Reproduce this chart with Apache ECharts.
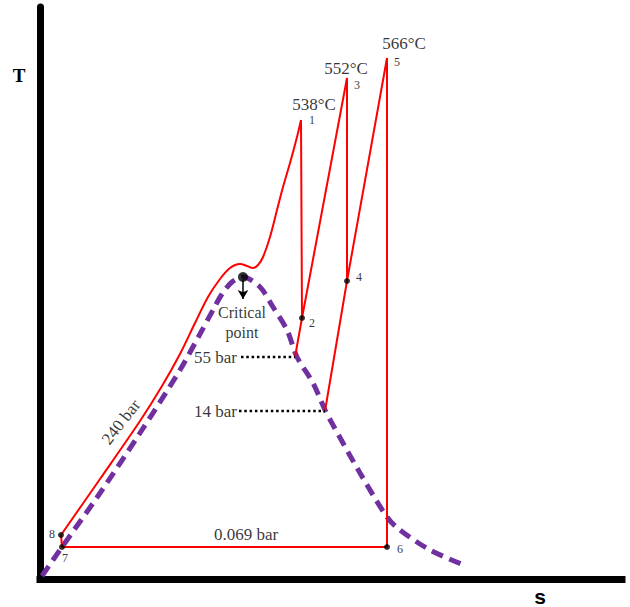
<!DOCTYPE html>
<html><head><meta charset="utf-8">
<script src="https://cdn.jsdelivr.net/npm/echarts@6/dist/echarts.min.js"></script>
<style>html,body{margin:0;padding:0;background:#fff}#c{width:630px;height:607px}</style>
</head><body><div id="c"></div>
<script>
// Schematic T-s diagram (arbitrary units: s horizontal, T vertical)
const saturationDome = [[2,3],[22,32],[58,83],[100,146],[140,209],[160,245],[173,269],[182,285],[192,297],[203,302],[220,292],[233,272],[247,249],[257,222],[273,196],[285,169],[293,154],[320,106],[347,62],[360,49],[390,29],[424,14]];
const isobar240 = [[21,44],[60,100],[100,158],[122,193],[140,225],[155,256],[168,282],[180,300],[190,311],[200,315],[207,313],[213,311],[218,314],[223,322],[230,342],[237,369],[243,392],[250,416],[257,442],[261,459]];
const statePointNames = ['1','2','3','4','5','6','7','8'];
const statePoints = [[261,459],[262,261],[307,501],[307,298],[347,521],[347,32],[22,32],[21,44]];
const markedStates = ['2','4','6','7','8'];
const temperatureLabels = ['538°C','552°C','566°C'];
const temperatureStates = ['1','3','5'];
const dome55 = [255,222];
const dome14 = [285,168];
const criticalPoint = [203,302];
const pressureNames = ['240 bar','55 bar','14 bar','0.069 bar'];
const dotted55 = [[201,222],[255,222]];
const dotted14 = [[199,168],[285,168]];
const label240Pos = [81,157];
const label0069Pos = [206,45];

const sp = n => statePoints[statePointNames.indexOf(n)];
const numberOffsets = {'1':[11,0],'2':[10,5],'3':[10,7],'4':[12,-4],'5':[10,4],'6':[13,2],'7':[3,11],'8':[-9,-1]};
const tempOffsets = [[13,-16],[-1,-10],[17,-15]];
const SERIF = "'Liberation Serif', 'Times New Roman', serif";
const RED = '#ff0000';

const chart = echarts.init(document.getElementById('c'), null, {renderer:'svg'});
const redLine = {color: RED, width: 2};
chart.setOption({
  animation: false,
  backgroundColor: '#fff',
  grid: {left: 40, top: 7, right: 8, bottom: 28},
  xAxis: {type:'value', min:0, max:582, axisLine:{show:true, onZero:false, lineStyle:{color:'#000', width:7, cap:'square'}}, axisTick:{show:false}, axisLabel:{show:false}, splitLine:{show:false}},
  yAxis: {type:'value', min:0, max:572, axisLine:{show:true, onZero:false, lineStyle:{color:'#000', width:7}}, axisTick:{show:false}, axisLabel:{show:false}, splitLine:{show:false}},
  graphic: [
    {type:'text', x:19, y:75, style:{text:'T', font:"bold 19px " + SERIF, fill:'#000', align:'center', verticalAlign:'middle', textAlign:'center', textVerticalAlign:'middle'}},
    {type:'text', x:540, y:596, style:{text:'s', font:"bold 21px 'Liberation Sans', Arial, sans-serif", fill:'#000', align:'center', verticalAlign:'middle', textAlign:'center', textVerticalAlign:'middle'}}
  ],
  series: [
    {type:'line', name:'dome', data: saturationDome, smooth:0.3, symbol:'none', z:1, lineStyle:{color:'#7030a0', width:5, type:[12,7]}},
    {type:'line', name:'240 bar', data: isobar240, smooth:0.3, symbol:'none', z:3, lineStyle: redLine},
    {type:'line', name:'cycle', data: statePoints, symbol:'none', z:3, lineStyle: redLine},
    {type:'line', name:'55 bar ext', data: [dome55, sp('2')], symbol:'none', z:3, lineStyle: redLine},
    {type:'line', name:'14 bar ext', data: [dome14, sp('4')], symbol:'none', z:3, lineStyle: redLine},
    {type:'line', name:'55 bar dots', data: dotted55, symbol:'none', z:3, lineStyle:{color:'#000', width:2.5, type:[2.5,2.8]}},
    {type:'line', name:'14 bar dots', data: dotted14, symbol:'none', z:3, lineStyle:{color:'#000', width:2.5, type:[2.5,2.8]}},
    {type:'scatter', name:'states', z:5, symbolSize:6, itemStyle:{color:'#000'},
      data: statePointNames.map(n => ({value: sp(n), name:n, symbolSize: markedStates.includes(n) ? 6 : 0,
        label:{show:true, position:'inside', offset:numberOffsets[n], formatter:n, color:'#000', fontFamily:SERIF, fontSize:12}}))},
    {type:'scatter', name:'temps', z:5, symbolSize:0, itemStyle:{color:'transparent'},
      data: temperatureStates.map((n,i) => ({value: sp(n), name:temperatureLabels[i],
        label:{show:true, position:'inside', offset:tempOffsets[i], formatter:temperatureLabels[i], color:'#000', fontFamily:SERIF, fontSize:17}}))},
    {type:'scatter', name:'critical', z:6, symbolSize:10, itemStyle:{color:'#000'},
      data:[{value: criticalPoint, label:{show:true, position:'inside', offset:[-1,45], formatter:'Critical\npoint', color:'#000', fontFamily:SERIF, fontSize:16, lineHeight:20}}],
      markLine:{silent:true, symbol:['none','arrow'], symbolSize:[8,9], label:{show:false}, lineStyle:{color:'#000', width:1.5, type:'solid'},
        data:[[{coord:[criticalPoint[0], criticalPoint[1]-3]},{coord:[criticalPoint[0], criticalPoint[1]-22]}]]}},
    {type:'scatter', name:'pressures', z:5, symbolSize:0, itemStyle:{color:'transparent'},
      data:[
        {value: label240Pos, label:{show:true, position:'inside', rotate:52, formatter:pressureNames[0], color:'#000', fontFamily:SERIF, fontSize:17}},
        {value: dotted55[0], label:{show:true, position:'left', distance:4, formatter:pressureNames[1], color:'#000', fontFamily:SERIF, fontSize:17}},
        {value: dotted14[0], label:{show:true, position:'left', distance:2, formatter:pressureNames[2], color:'#000', fontFamily:SERIF, fontSize:17}},
        {value: label0069Pos, label:{show:true, position:'inside', formatter:pressureNames[3], color:'#000', fontFamily:SERIF, fontSize:17}}
      ]}
  ]
});
</script></body></html>
